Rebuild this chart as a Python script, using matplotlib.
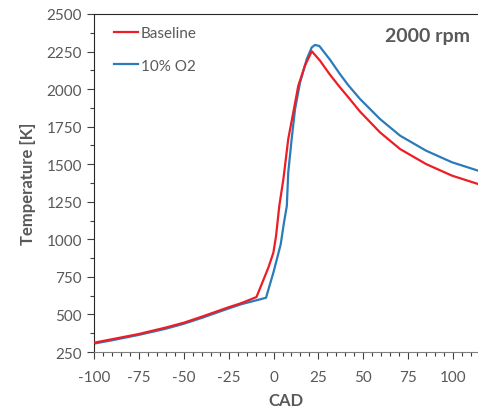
import matplotlib
matplotlib.use("Agg")
import matplotlib.pyplot as plt
from matplotlib.ticker import MultipleLocator

# Baseline (red)
cad_base = [-100, -90, -75, -60, -50, -40, -30, -25, -18, -9.5, -2.9, -0.1, 1.4, 3.2, 5.5, 8.2,
            11, 13.8, 17.5, 21.3, 25.9, 31.5, 37, 41.7, 48.2, 59.3, 70.5, 85, 99.4, 114]
temp_base = [312, 335, 370, 413, 445, 485, 527, 548, 575, 616, 811, 911, 1022, 1222, 1402, 1668,
             1845, 2023, 2156, 2252, 2189, 2095, 2012, 1945, 1850, 1712, 1601, 1501, 1424, 1368]

# 10% O2 (blue)
cad_o2 = [-100, -90, -75, -60, -50, -40, -30, -25, -18, -10, -4.2, -0.1, 4.0, 5.8, 7.4, 8.2,
          10.1, 12, 14.8, 18.5, 21.3, 23.1, 25.5, 31.5, 37, 41.7, 48.2, 59.3, 70.5, 85, 99.4, 114]
temp_o2 = [306, 328, 364, 405, 438, 477, 519, 540, 568, 593, 611, 778, 967, 1111, 1222, 1446,
           1668, 1868, 2045, 2200, 2278, 2294, 2287, 2195, 2100, 2025, 1934, 1801, 1690, 1590,
           1513, 1457]

grey = '#595959'
plt.rcParams['font.family'] = ['Lato', 'DejaVu Sans']
plt.rcParams['axes.unicode_minus'] = False

fig = plt.figure(figsize=(4.78, 4.14), dpi=100)
ax = fig.add_axes([0.1967, 0.1473, 0.8033, 0.8165])

ax.plot(cad_o2, temp_o2, color='#2b7bba', linewidth=1.6, label='10% O2', zorder=2)
ax.plot(cad_base, temp_base, color='#ee1c25', linewidth=1.6, label='Baseline', zorder=3)

ax.set_xlim(-100, 113.9)
ax.set_ylim(250, 2500)
ax.xaxis.set_major_locator(MultipleLocator(25))
ax.xaxis.set_minor_locator(MultipleLocator(5))
ax.yaxis.set_major_locator(MultipleLocator(250))
ax.yaxis.set_minor_locator(MultipleLocator(125))
ax.tick_params(which='major', length=5, width=0.8, colors='#404040', labelcolor=grey, labelsize=11)
ax.tick_params(axis='x', which='major', pad=8)
ax.tick_params(which='minor', length=3, width=0.8, colors='#404040')

ax.spines['right'].set_visible(False)
ax.spines['left'].set_color('#262626')
ax.spines['top'].set_color('#262626')
ax.spines['bottom'].set_color('#7f7f7f')

ax.set_xlabel('CAD', fontsize=12, fontweight='bold', color=grey, labelpad=6)
ax.set_ylabel('Temperature [K]', fontsize=12, fontweight='bold', color=grey, labelpad=8)

ax.text(0.98, 0.935, '2000 rpm', transform=ax.transAxes, ha='right', va='center',
        fontsize=14, fontweight='bold', color=grey)

handles, labels = ax.get_legend_handles_labels()
leg = ax.legend(handles[::-1], labels[::-1], loc='upper left', frameon=False, fontsize=11,
                handlelength=1.6, handletextpad=0.15, labelspacing=1.2,
                bbox_to_anchor=(0.02, 1.0), borderaxespad=0.4)
for t in leg.get_texts():
    t.set_color(grey)

fig.savefig('out.png', dpi=100)
